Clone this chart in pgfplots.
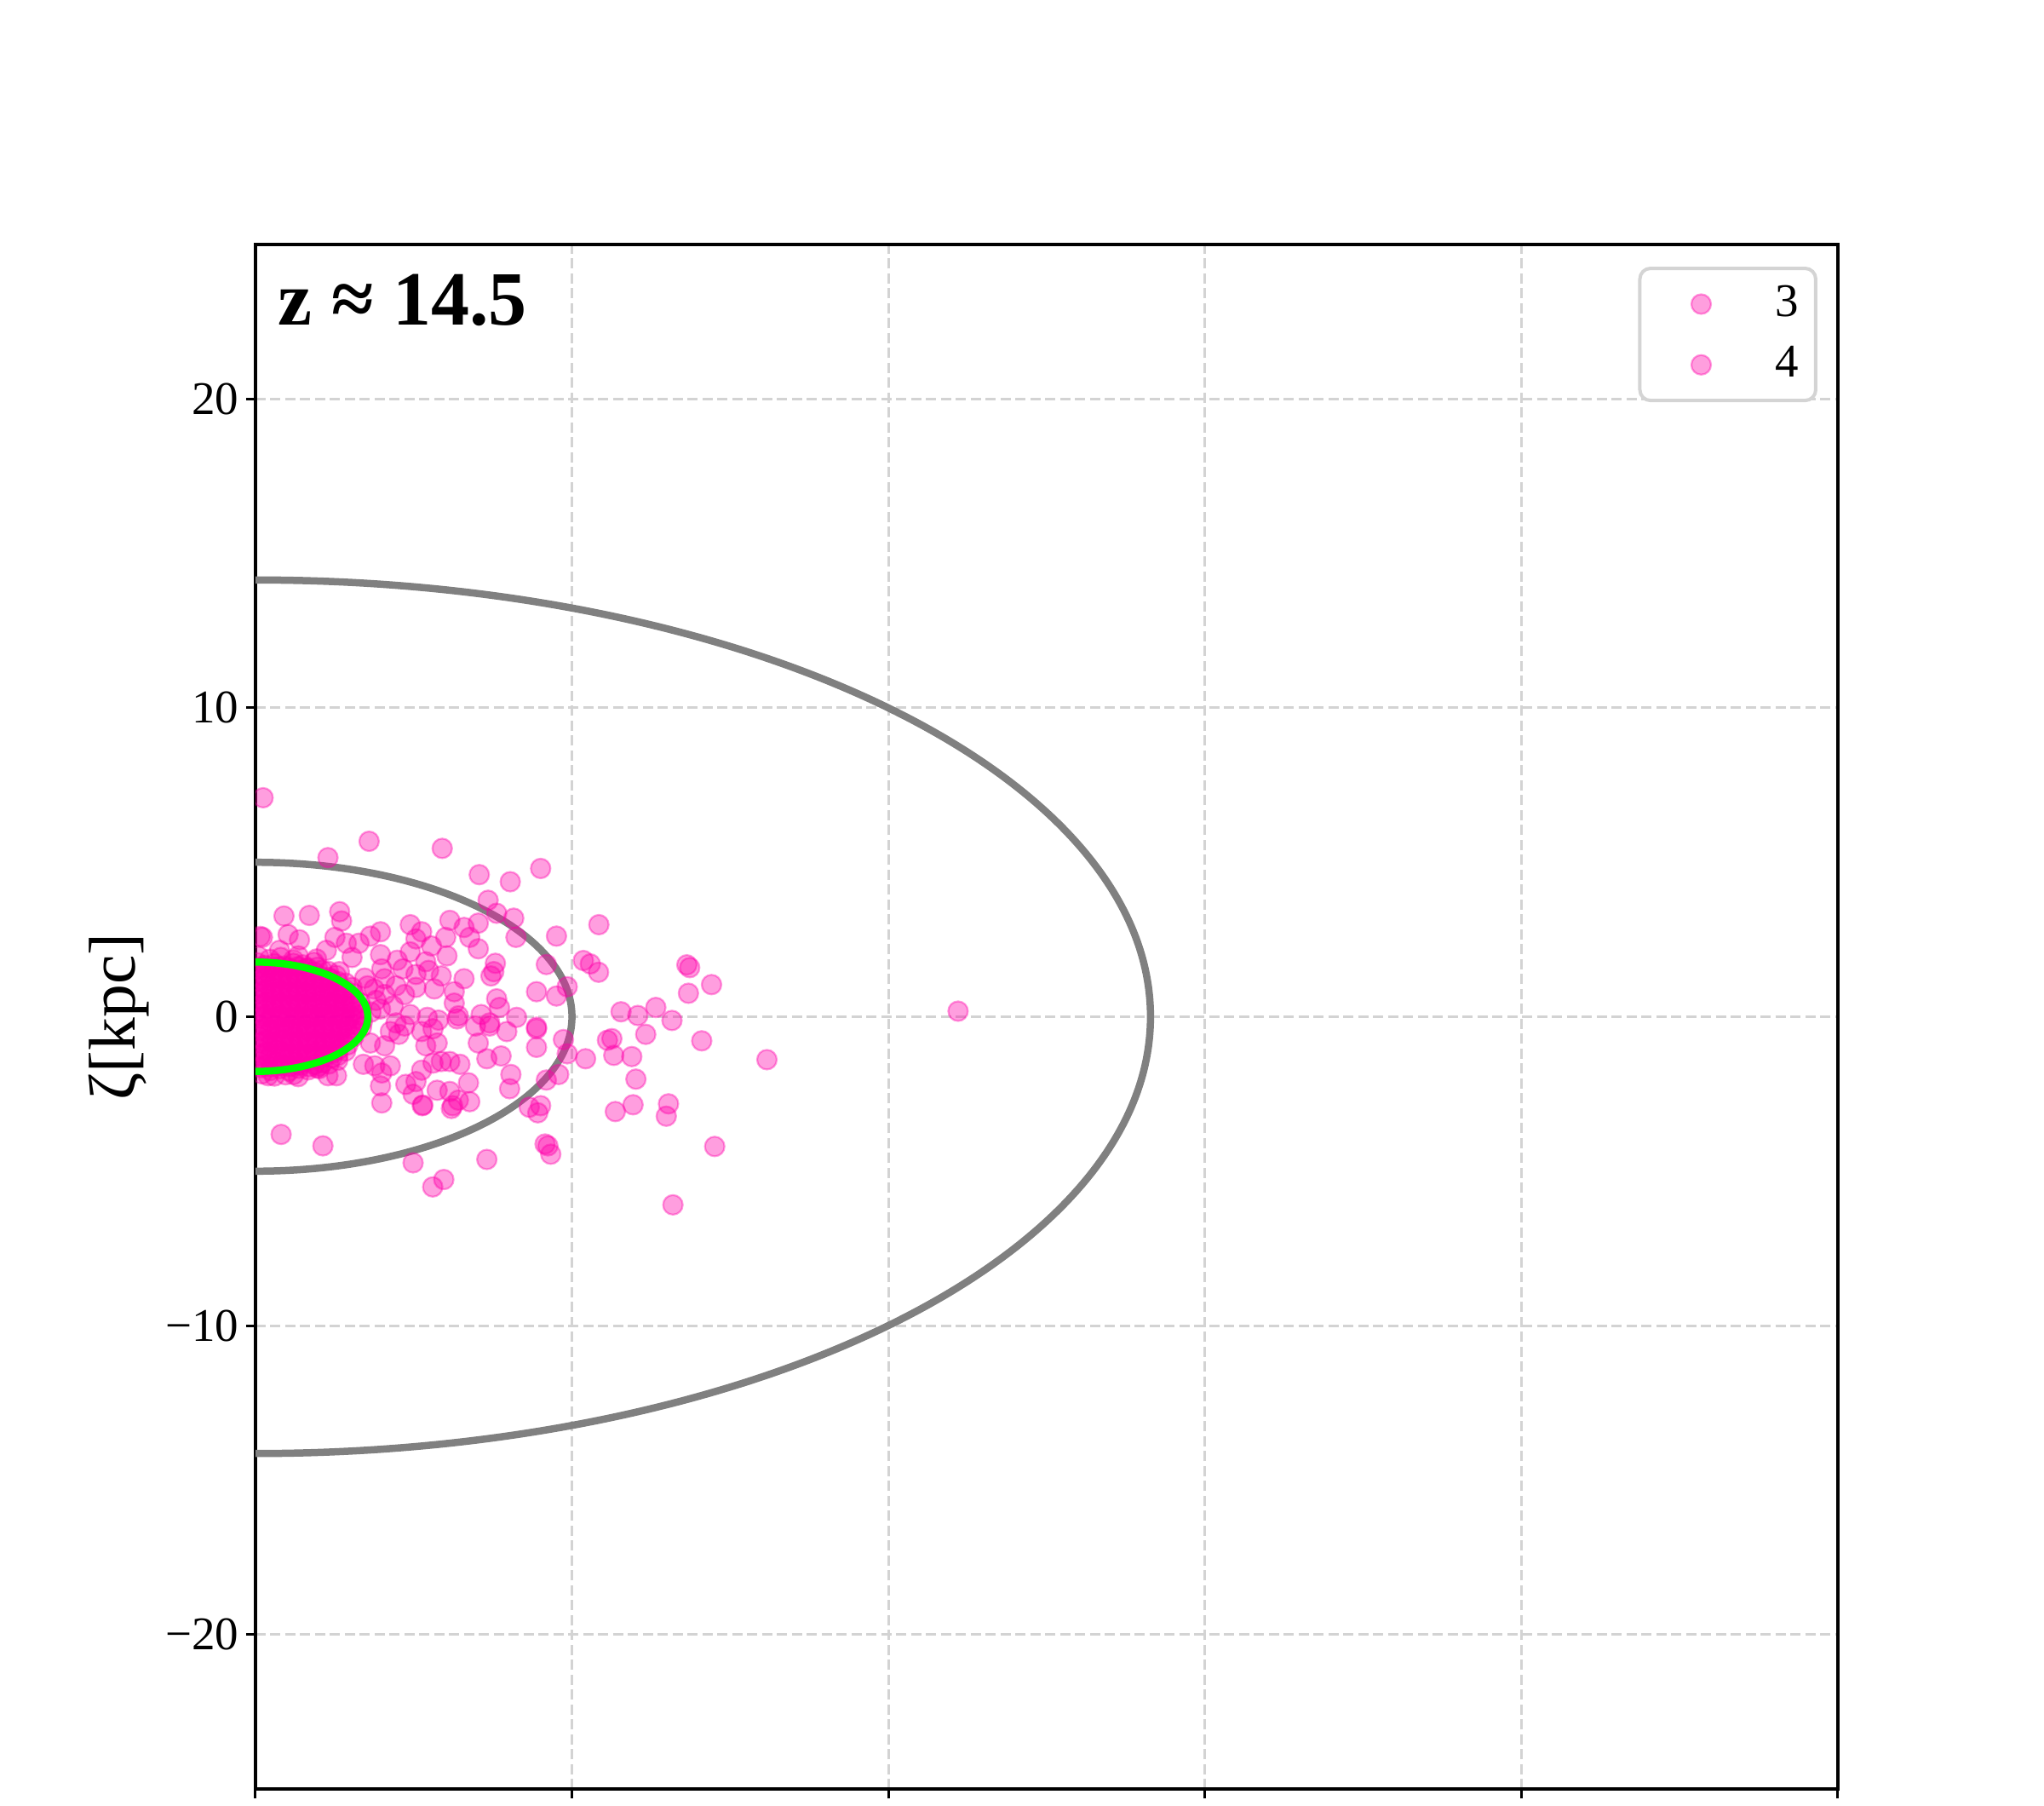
\documentclass[border=0pt]{standalone}
\usepackage{fontspec}
\setmainfont{Liberation Serif}
\usepackage{pgfplots}
\pgfplotsset{compat=1.18}
\definecolor{mag}{RGB}{255,0,170}
\definecolor{gridc}{RGB}{211,211,211}
\definecolor{limeg}{RGB}{0,255,0}
\begin{document}
\begin{tikzpicture}
\useasboundingbox (-60pt,-3.8pt) rectangle (420pt,420pt);
\begin{axis}[
  at={(0,0)}, anchor=south west,
  scale only axis, width=371.6pt, height=362.6pt,
  xmin=0, xmax=50, ymin=-25, ymax=25,
  xtick={0,10,...,50}, ytick={-20,-10,0,10,20},
  xticklabels={}, yticklabels={−20,−10,0,10,20},
  tick pos=left, tick align=outside, major tick length=2.2pt,
  tick style={black, line width=0.6pt},
  grid=major, major grid style={gridc, dash pattern=on 2.4pt off 1.1pt, line width=0.6pt},
  axis line style={line width=0.7pt},
  ticklabel style={font=\fontsize{11}{13}\selectfont},
  yticklabel style={inner xsep=1.5pt},
  ylabel={ζ[kpc]},
  ylabel style={font=\fontsize{15.5}{18}\selectfont, at={(axis description cs:-0.0861,0.5)}, anchor=center},
  clip marker paths=true,
  legend style={at={(rel axis cs:1,1)}, anchor=north east, xshift=-4.8pt, yshift=-5.2pt,
    draw=black!17, line width=0.8pt, rounded corners=2.5pt,
    font=\fontsize{11}{12}\selectfont, inner xsep=2pt, inner ysep=2pt, row sep=1.5pt},
  legend cell align=left,
  scat/.style={only marks, mark=*, mark size=2.3pt,
    mark options={fill=mag, draw=mag, fill opacity=0.38, draw opacity=0.38, line width=0.45pt},
    legend image code/.code={\path (0pt,0pt) (27pt,0pt); \draw[##1] plot coordinates {(12pt,0pt)};}},
]
% halo ellipses
\draw[gray, line width=1.7pt] (axis cs:0,0) ellipse [x radius=28.28, y radius=14.14];
\draw[gray, line width=1.7pt] (axis cs:0,0) ellipse [x radius=10, y radius=5];

% series 3: dense core
\addplot[scat] coordinates {
(0.1,1.95)(0.45,1.86)(0.8,1.92)(1.2,1.84)
(0.05,1.75)(0.3,1.66)(0.6,1.72)(0.9,1.64)(1.2,1.73)(1.5,1.68)(1.85,1.76)
(0.1,1.55)(0.35,1.46)(0.6,1.52)(0.85,1.44)(1.1,1.53)(1.35,1.48)(1.6,1.56)(1.85,1.45)(2.1,1.51)(2.3,1.47)
(0.05,1.35)(0.3,1.26)(0.55,1.32)(0.8,1.24)(1.05,1.33)(1.3,1.28)(1.55,1.36)(1.8,1.25)(2.05,1.31)(2.3,1.27)(2.55,1.34)
(0.1,1.15)(0.35,1.06)(0.6,1.12)(0.85,1.04)(1.1,1.13)(1.35,1.08)(1.6,1.16)(1.85,1.05)(2.1,1.11)(2.35,1.07)(2.6,1.14)(2.85,1.09)
(0.05,0.95)(0.3,0.86)(0.55,0.92)(0.8,0.84)(1.05,0.93)(1.3,0.88)(1.55,0.96)(1.8,0.85)(2.05,0.91)(2.3,0.87)(2.55,0.94)(2.8,0.89)(3.05,0.95)
(0.1,0.75)(0.35,0.66)(0.6,0.72)(0.85,0.64)(1.1,0.73)(1.35,0.68)(1.6,0.76)(1.85,0.65)(2.1,0.71)(2.35,0.67)(2.6,0.74)(2.85,0.69)(3.1,0.75)
(0.05,0.55)(0.3,0.46)(0.55,0.52)(0.8,0.44)(1.05,0.53)(1.3,0.48)(1.55,0.56)(1.8,0.45)(2.05,0.51)(2.3,0.47)(2.55,0.54)(2.8,0.49)(3.05,0.55)(3.3,0.46)
(0.1,0.35)(0.35,0.26)(0.6,0.32)(0.85,0.24)(1.1,0.33)(1.35,0.28)(1.6,0.36)(1.85,0.25)(2.1,0.31)(2.35,0.27)(2.6,0.34)(2.85,0.29)(3.1,0.35)(3.35,0.26)
(0.05,0.15)(0.3,0.06)(0.55,0.12)(0.8,0.04)(1.05,0.13)(1.3,0.08)(1.55,0.16)(1.8,0.05)(2.05,0.11)(2.3,0.07)(2.55,0.14)(2.8,0.09)(3.05,0.15)(3.3,0.06)
(0.17,-0.05)(0.42,-0.14)(0.67,-0.08)(0.92,-0.16)(1.17,-0.07)(1.42,-0.12)(1.67,-0.04)(1.92,-0.15)(2.17,-0.09)(2.42,-0.13)(2.67,-0.06)(2.92,-0.11)(3.17,-0.05)(3.38,-0.14)
(0.12,-0.25)(0.37,-0.34)(0.62,-0.28)(0.87,-0.36)(1.12,-0.27)(1.37,-0.32)(1.62,-0.24)(1.87,-0.35)(2.12,-0.29)(2.37,-0.33)(2.62,-0.26)(2.87,-0.31)(3.12,-0.25)(3.35,-0.34)
(0.17,-0.45)(0.42,-0.54)(0.67,-0.48)(0.92,-0.56)(1.17,-0.47)(1.42,-0.52)(1.67,-0.44)(1.92,-0.55)(2.17,-0.49)(2.42,-0.53)(2.67,-0.46)(2.92,-0.51)(3.17,-0.45)
(0.12,-0.65)(0.37,-0.74)(0.62,-0.68)(0.87,-0.76)(1.12,-0.67)(1.37,-0.72)(1.62,-0.64)(1.87,-0.75)(2.12,-0.69)(2.37,-0.73)(2.62,-0.66)(2.87,-0.71)(3.1,-0.65)
(0.17,-0.85)(0.42,-0.94)(0.67,-0.88)(0.92,-0.96)(1.17,-0.87)(1.42,-0.92)(1.67,-0.84)(1.92,-0.95)(2.17,-0.89)(2.42,-0.93)(2.67,-0.86)(2.92,-0.91)
(0.12,-1.05)(0.37,-1.14)(0.62,-1.08)(0.87,-1.16)(1.12,-1.07)(1.37,-1.12)(1.62,-1.04)(1.87,-1.15)(2.12,-1.09)(2.37,-1.13)(2.62,-1.06)(2.85,-1.11)
(0.17,-1.25)(0.42,-1.34)(0.67,-1.28)(0.92,-1.36)(1.17,-1.27)(1.42,-1.32)(1.67,-1.24)(1.92,-1.35)(2.17,-1.29)(2.42,-1.33)(2.6,-1.26)
(0.12,-1.45)(0.37,-1.54)(0.62,-1.48)(0.87,-1.56)(1.12,-1.47)(1.37,-1.52)(1.62,-1.44)(1.87,-1.55)(2.12,-1.49)(2.32,-1.53)
(0.17,-1.65)(0.47,-1.74)(0.77,-1.68)(1.07,-1.76)(1.37,-1.67)(1.67,-1.72)(1.95,-1.66)
(0.2,-1.85)(0.6,-1.92)(0.95,-1.88)(1.35,-1.94)
(0.22,0.01)(0.5,-0.02)(0.78,0.03)(1.06,-0.01)(1.34,0.02)(1.62,-0.03)(1.9,0.01)(2.18,-0.02)(2.46,0.03)(2.74,-0.01)(3.02,0.02)
(0.25,0.41)(0.53,0.38)(0.81,0.43)(1.09,0.39)(1.37,0.42)(1.65,0.37)(1.93,0.41)(2.21,0.38)(2.49,0.43)(2.77,0.39)(3.0,0.42)
(0.2,-0.39)(0.48,-0.42)(0.76,-0.37)(1.04,-0.41)(1.32,-0.38)(1.6,-0.43)(1.88,-0.39)(2.16,-0.42)(2.44,-0.37)(2.72,-0.41)(3.0,-0.38)
(0.22,0.81)(0.5,0.78)(0.78,0.83)(1.06,0.79)(1.34,0.82)(1.62,0.77)(1.9,0.81)(2.18,0.78)(2.46,0.83)(2.74,0.79)
(0.25,-0.79)(0.53,-0.82)(0.81,-0.77)(1.09,-0.81)(1.37,-0.78)(1.65,-0.83)(1.93,-0.79)(2.21,-0.82)(2.49,-0.77)(2.77,-0.81)
(0.2,1.21)(0.48,1.18)(0.76,1.23)(1.04,1.19)(1.32,1.22)(1.6,1.17)(1.88,1.21)(2.16,1.18)(2.4,1.22)
(0.22,-1.19)(0.5,-1.22)(0.78,-1.17)(1.06,-1.21)(1.34,-1.18)(1.62,-1.23)(1.9,-1.19)(2.18,-1.22)(2.45,-1.18)
(0.15,1.61)(0.45,1.58)(0.75,1.62)(1.05,1.59)(1.35,1.62)(1.65,1.58)(1.95,1.6)
(0.2,-1.59)(0.5,-1.62)(0.8,-1.58)(1.1,-1.61)(1.4,-1.58)(1.7,-1.62)(2.0,-1.6)
};
\addlegendentry{3}

% series 4: outer points
\addplot[scat] coordinates {
(0.24,7.09)(3.59,5.68)(2.29,5.15)(5.90,5.45)(7.07,4.60)(8.05,4.37)(9.01,4.80)(7.35,3.77)(7.62,3.35)(8.16,3.19)
(8.23,2.57)(9.51,2.61)(0.90,3.26)(1.70,3.28)(2.66,3.40)(2.72,3.10)(0.22,2.57)(0.15,2.6)(1.03,2.66)(1.39,2.49)
(0.76,2.15)(1.35,1.97)(1.93,1.87)(2.51,2.57)(2.24,2.15)(2.87,2.38)(3.27,2.38)(3.63,2.61)(3.95,2.75)(3.05,1.92)
(2.65,1.46)(3.95,2.01)(4.89,2.98)(5.25,2.75)(5.07,2.52)(5.56,2.29)(6.14,3.12)(6.59,2.89)(7.04,3.03)(6.77,2.57)
(6.01,2.57)(6.05,1.97)(7.04,2.20)(4.89,2.10)(4.48,1.83)(4.66,1.55)(3.99,1.55)(4.08,1.23)(3.54,1.00)(4.44,1.00)
(5.07,1.37)(5.38,1.78)(5.47,1.50)(5.87,1.32)(5.65,0.90)(5.07,0.95)(6.28,0.81)(6.28,0.44)(6.59,1.23)(7.58,1.73)
(7.44,1.32)(7.53,1.46)(8.88,0.81)(9.19,1.69)(9.51,0.67)(7.62,0.58)(7.71,0.30)(8.25,-0.02)(7.13,0.07)(7.40,-0.20)
(8.88,-0.34)(6.41,0.03)(4.89,0.07)(5.43,-0.02)(5.78,-0.11)(4.35,0.35)(4.08,0.72)(4.71,0.72)(3.81,0.53)(4.44,-0.20)
(3.45,1.25)(3.75,0.9)(3.95,0.25)(3.65,0.15)
(8.88,-0.39)(8.88,-0.99)(7.94,-0.48)(7.04,-0.85)(7.31,-1.36)(7.76,-1.27)(8.07,-1.87)(8.03,-2.33)(9.19,-2.05)(8.65,-2.93)
(8.92,-3.11)(9.01,-2.88)(9.24,-4.18)(9.33,-4.45)(9.15,-4.12)(7.31,-4.62)(4.98,-4.73)(5.95,-5.27)(5.60,-5.51)(0.81,-3.81)
(2.13,-4.18)(3.41,-1.54)(3.77,-1.59)(3.99,-1.82)(4.26,-1.59)(3.95,-2.24)(3.99,-2.79)(4.75,-2.19)(5.07,-2.10)(4.98,-2.51)
(5.29,-2.86)(5.27,-2.88)(5.25,-1.73)(5.61,-1.50)(5.87,-1.45)(6.14,-1.45)(6.46,-1.54)(6.73,-2.14)(5.74,-2.38)(6.14,-2.42)
(6.23,-2.88)(6.19,-2.97)(6.77,-2.75)(6.41,-2.70)(5.38,-0.94)(5.74,-0.85)(5.25,-0.48)(5.61,-0.39)(4.53,-0.57)(4.08,-0.94)
(3.63,-0.85)(4.26,-0.48)(4.71,-0.30)(6.37,-0.07)(6.95,-0.30)(7.40,-0.30)(0.40,-1.91)(1.21,-1.87)(2.29,-1.91)(2.56,-1.91)
(2.02,-1.68)(2.60,-1.41)
(10.85,2.98)(10.36,1.82)(10.58,1.71)(10.84,1.44)(13.63,1.68)(13.72,1.59)(13.68,0.76)(14.41,1.04)(9.85,0.97)(11.55,0.16)
(12.08,0.04)(12.65,0.30)(13.16,-0.12)
(12.33,-0.57)(14.10,-0.78)(16.16,-1.39)(11.12,-0.76)(11.26,-0.71)(11.32,-1.25)(11.89,-1.29)(10.43,-1.36)(9.85,-1.20)(9.73,-0.74)
(9.58,-1.87)(12.02,-2.02)(11.93,-2.85)(11.37,-3.07)(13.05,-2.82)(12.98,-3.22)(14.51,-4.20)(13.19,-6.09)
(22.2,0.18)
};
\addlegendentry{4}

% inner ellipse
\draw[limeg, line width=1.7pt] (axis cs:0,0) ellipse [x radius=3.55, y radius=1.77];

\node[anchor=west, font=\fontsize{18}{21}\selectfont\bfseries] at (rel axis cs:0,1) [xshift=1.8pt, yshift=-13pt] {z ≈ 14.5};
\end{axis}
\end{tikzpicture}
\end{document}
